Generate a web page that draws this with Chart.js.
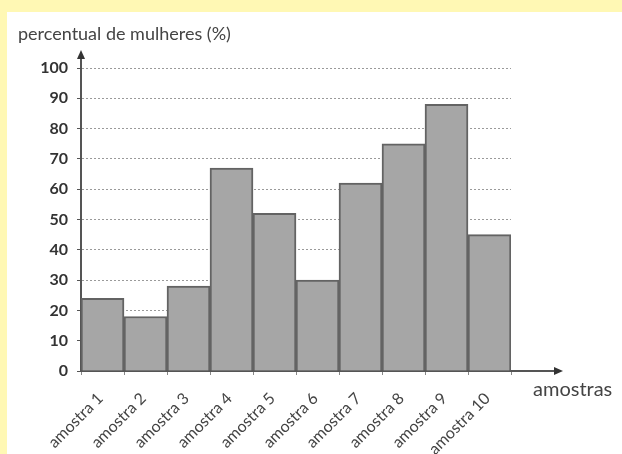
<!DOCTYPE html>
<html>
<head>
<meta charset="utf-8">
<script src="https://cdn.jsdelivr.net/npm/chart.js@4"></script>
<style>
    html, body { margin: 0; padding: 0; background: #fff8b4; }
    #wrap { position: absolute; left: 7px; top: 12px; width: 615px; height: 442px; background: #ffffff; }
</style>
</head>
<body>
<div id="wrap"><canvas id="barChart" width="615" height="442"></canvas></div>
<script>
// Data
const sampleLabels = ['amostra 1', 'amostra 2', 'amostra 3', 'amostra 4', 'amostra 5',
    'amostra 6', 'amostra 7', 'amostra 8', 'amostra 9', 'amostra 10'];
const womenPercent = [24, 18, 28, 67, 52, 30, 62, 75, 88, 45];
const yTitle = 'percentual de mulheres (%)';
const xTitle = 'amostras';

const axisColor = '#555555';
const fontFamily = 'Lato, "Open Sans", sans-serif';

// Arrows on both axes and the two axis titles
const axisArrows = {
    id: 'axisArrows',
    afterDraw(chart) {
        const ctx = chart.ctx;
        const area = chart.chartArea;
        ctx.save();
        ctx.strokeStyle = axisColor;
        ctx.fillStyle = '#333333';
        ctx.lineWidth = 2;

        // y axis arrow
        ctx.beginPath();
        ctx.moveTo(area.left, area.top);
        ctx.lineTo(area.left, area.top - 12);
        ctx.stroke();
        ctx.beginPath();
        ctx.moveTo(area.left, area.top - 18);
        ctx.lineTo(area.left - 4, area.top - 9);
        ctx.lineTo(area.left + 4, area.top - 9);
        ctx.closePath();
        ctx.fill();

        // x axis arrow
        ctx.beginPath();
        ctx.moveTo(area.right, area.bottom);
        ctx.lineTo(area.right + 46, area.bottom);
        ctx.stroke();
        ctx.beginPath();
        ctx.moveTo(area.right + 52, area.bottom);
        ctx.lineTo(area.right + 43, area.bottom - 4);
        ctx.lineTo(area.right + 43, area.bottom + 4);
        ctx.closePath();
        ctx.fill();

        ctx.fillStyle = '#444444';
        ctx.font = '18px ' + fontFamily;
        ctx.textBaseline = 'alphabetic';
        ctx.textAlign = 'left';
        ctx.fillText(yTitle, 11, 28);
        ctx.font = '20px ' + fontFamily;
        ctx.fillText(xTitle, 526, 384);
        ctx.restore();
    }
};

document.addEventListener('DOMContentLoaded', function() {
    const ctx = document.getElementById('barChart').getContext('2d');

    new Chart(ctx, {
        type: 'bar',
        data: {
            labels: sampleLabels,
            datasets: [{
                data: womenPercent,
                backgroundColor: '#a6a6a6',
                borderColor: '#636363',
                borderWidth: 2,
                categoryPercentage: 1,
                barPercentage: 1
            }]
        },
        options: {
            responsive: false,
            animation: false,
            layout: {
                padding: { top: 56, right: 111, left: 0, bottom: 0 }
            },
            plugins: {
                legend: { display: false },
                tooltip: { enabled: false }
            },
            scales: {
                y: {
                    min: 0,
                    max: 100,
                    afterFit(scale) { scale.width = 74; },
                    ticks: {
                        stepSize: 10,
                        padding: 9,
                        color: '#333333',
                        font: { family: fontFamily, size: 16, weight: 'bold' }
                    },
                    grid: {
                        color: '#9a9a9a',
                        tickBorderDash: [],
                        tickColor: axisColor,
                        tickLength: 4,
                        lineWidth: 1
                    },
                    border: { color: axisColor, width: 2, dash: [2, 2] }
                },
                x: {
                    afterFit(scale) { scale.height = 83; },
                    ticks: {
                        minRotation: 45,
                        maxRotation: 45,
                        padding: 14,
                        labelOffset: -2,
                        color: '#444444',
                        font: { family: fontFamily, size: 16 }
                    },
                    grid: {
                        drawOnChartArea: false,
                        offset: true,
                        tickColor: '#888888',
                        tickLength: 4
                    },
                    border: { color: axisColor, width: 2 }
                }
            }
        },
        plugins: [axisArrows]
    });
});
</script>
</body>
</html>
